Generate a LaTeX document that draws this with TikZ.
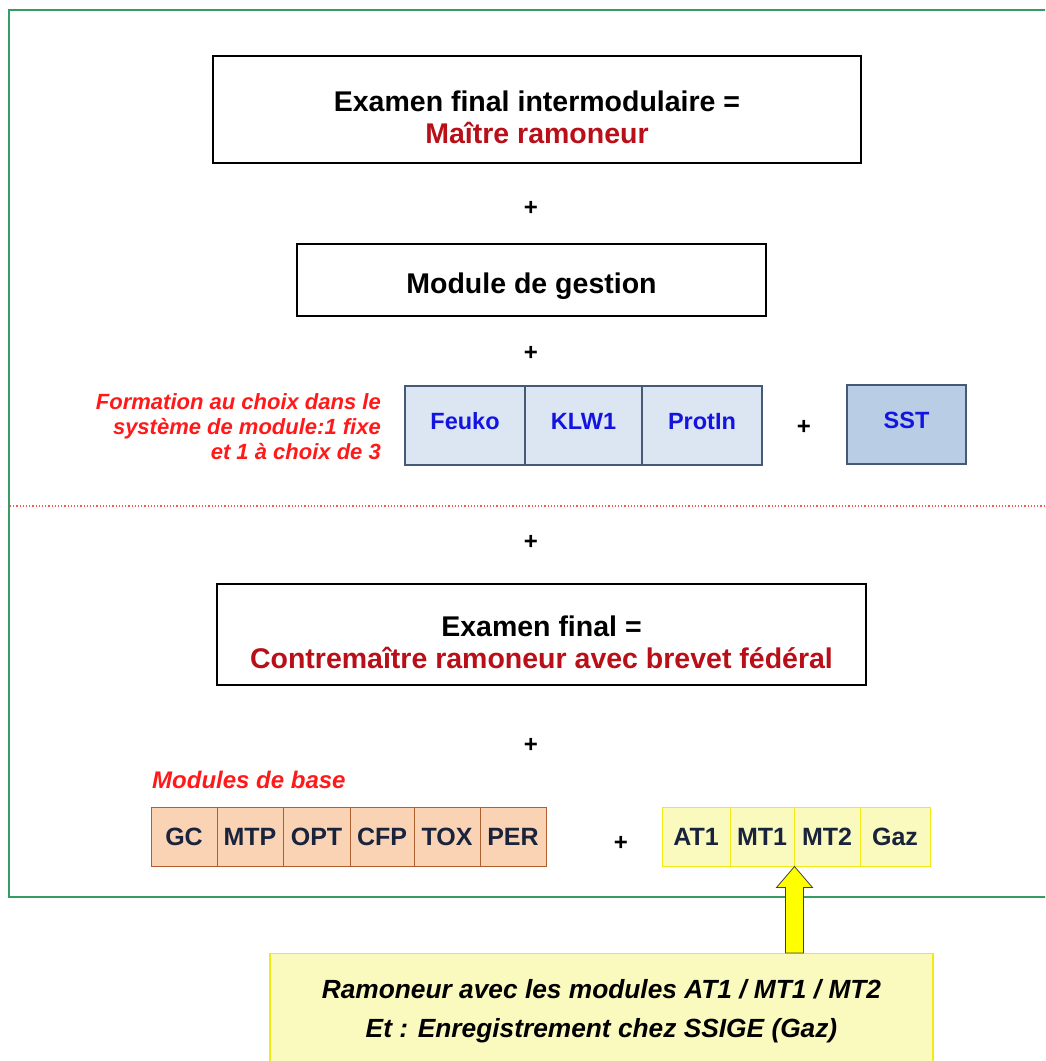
\documentclass[tikz,border=0pt]{standalone}
\usepackage{fontspec}
\setmainfont{Liberation Sans}
\usetikzlibrary{calc}
\definecolor{framegreen}{RGB}{55,155,100}
\definecolor{darkred}{RGB}{185,15,25}
\definecolor{brightred}{RGB}{255,25,25}
\definecolor{bluefill}{RGB}{220,230,242}
\definecolor{bluefilldark}{RGB}{185,205,228}
\definecolor{blueborder}{RGB}{70,90,120}
\definecolor{bluetext}{RGB}{20,20,225}
\definecolor{orangefill}{RGB}{250,210,180}
\definecolor{orangeborder}{RGB}{175,95,45}
\definecolor{yellowfill}{RGB}{250,250,190}
\definecolor{yellowborder}{RGB}{240,235,20}
\definecolor{navytext}{RGB}{25,35,60}
\definecolor{arrowyellow}{RGB}{255,255,0}
\begin{document}
\begin{tikzpicture}[x=1pt,y=-1pt,
  titlebox/.style={draw=black, line width=1.2pt, fill=white, inner sep=0pt},
  titletext/.style={align=center, inner sep=0pt, font=\bfseries\fontsize{28.5}{32}\selectfont},
  pluslabel/.style={font=\bfseries\fontsize{24}{24}\selectfont, inner sep=0pt},
  bluecell/.style={draw=blueborder, line width=1.2pt, fill=bluefill, text=bluetext, inner sep=0pt,
    minimum height=79pt, text depth=9pt, font=\bfseries\fontsize{23.5}{26}\selectfont},
  orangecell/.style={draw=orangeborder, line width=1pt, fill=orangefill, text=navytext, inner sep=0pt,
    minimum height=59pt, font=\bfseries\fontsize{25}{26}\selectfont},
  yellowcell/.style={draw=yellowborder, line width=1pt, fill=yellowfill, text=navytext, inner sep=0pt,
    minimum height=59pt, font=\bfseries\fontsize{25}{26}\selectfont},
  redlabel/.style={text=brightred, inner sep=0pt, font=\bfseries\itshape\fontsize{22}{25}\selectfont},
  notebox/.style={draw=yellowborder, line width=1.2pt, fill=yellowfill, align=center, inner sep=0pt,
    font=\bfseries\itshape\fontsize{26.3}{39}\selectfont},
  blockarrow/.style={fill=arrowyellow, draw=black!75, line width=0.8pt, line join=miter},
  framestyle/.style={draw=framegreen, line width=2.8pt},
  sepline/.style={draw=brightred!75, dotted, line width=1.2pt}]
\useasboundingbox (0,0) rectangle (1045,1061);
\clip (0,0) rectangle (1045,1061);
\fill[white] (0,0) rectangle (1045,1061);

% frame
\draw[framestyle] (1080,10) -- (9,10) -- (9,897) -- (1080,897);

% separator
\coordinate (sepL) at (10,506);
\coordinate (sepR) at (1045,506);
\draw[sepline] (sepL) -- (sepR);

% top exam box
\node[titlebox, minimum width=648pt, minimum height=107pt] (exam1) at (537,109.5) {};
\node[titletext] (exam1t) at ($(exam1.center)+(0,8)$)
  {Examen final intermodulaire =\\\textcolor{darkred}{Maître ramoneur}};
\node[pluslabel] (p1) at (531,208) {+};
\node[titlebox, minimum width=469pt, minimum height=72pt] (gestion) at (531.5,280) {};
\node[titletext] (gestiont) at ($(gestion.center)+(0,6)$) {Module de gestion};
\node[pluslabel] (p2) at (531,353) {+};

% choice modules
\node[redlabel, align=right, anchor=east] (choix) at (381,427)
  {Formation au choix dans le\\système de module:1 fixe\\et 1 à choix de 3};
\node[bluecell, minimum width=120pt] (feuko) at (465,425.5) {Feuko};
\node[bluecell, minimum width=117pt] (klw) at (583.5,425.5) {KLW1};
\node[bluecell, minimum width=120pt] (protin) at (702,425.5) {ProtIn};
\node[pluslabel] (p3) at (804,427) {+};
\node[bluecell, fill=bluefilldark, minimum width=119pt] (sst) at (906.5,424.5) {SST};

\node[pluslabel] (p4) at (531,542) {+};

% final exam box
\node[titlebox, minimum width=649pt, minimum height=101pt] (exam2) at (541.5,634.5) {};
\node[titletext] (exam2t) at ($(exam2.center)+(0,8)$)
  {Examen final =\\\textcolor{darkred}{Contremaître ramoneur avec brevet fédéral}};
\node[pluslabel] (p5) at (531,745) {+};

% base modules
\node[redlabel, anchor=west, font=\bfseries\itshape\fontsize{24}{26}\selectfont] (base) at (152,780) {Modules de base};
\node[orangecell, minimum width=66pt] (gc) at (184,836.5) {GC};
\node[orangecell, minimum width=66pt] (mtp) at (250,836.5) {MTP};
\node[orangecell, minimum width=67pt] (opt) at (316.5,836.5) {OPT};
\node[orangecell, minimum width=64pt] (cfp) at (382,836.5) {CFP};
\node[orangecell, minimum width=66pt] (tox) at (447,836.5) {TOX};
\node[orangecell, minimum width=66pt] (per) at (513,836.5) {PER};
\node[pluslabel] (p6) at (621,843) {+};
\node[yellowcell, minimum width=68pt] (at1) at (696,836.5) {AT1};
\node[yellowcell, minimum width=64pt] (mt1) at (762,836.5) {MT1};
\node[yellowcell, minimum width=66pt] (mt2) at (827,836.5) {MT2};
\node[yellowcell, minimum width=70pt] (gaz) at (895,836.5) {Gaz};

% note box
\node[notebox, minimum width=663pt, minimum height=115pt, anchor=north] (note) at (601.5,953)
  {Ramoneur avec les modules AT1 / MT1 / MT2\\Et : Enregistrement chez SSIGE (Gaz)};

% block arrow from note to MT1/MT2
\coordinate (tip) at (mt1.south east);
\coordinate (base) at (tip |- note.north);
\draw[blockarrow] (tip) -- ($(tip)+(18,21)$) -- ($(tip)+(9,21)$) -- ($(base)+(9,0)$)
  -- ($(base)+(-9,0)$) -- ($(tip)+(-9,21)$) -- ($(tip)+(-18,21)$) -- cycle;
\end{tikzpicture}
\end{document}
